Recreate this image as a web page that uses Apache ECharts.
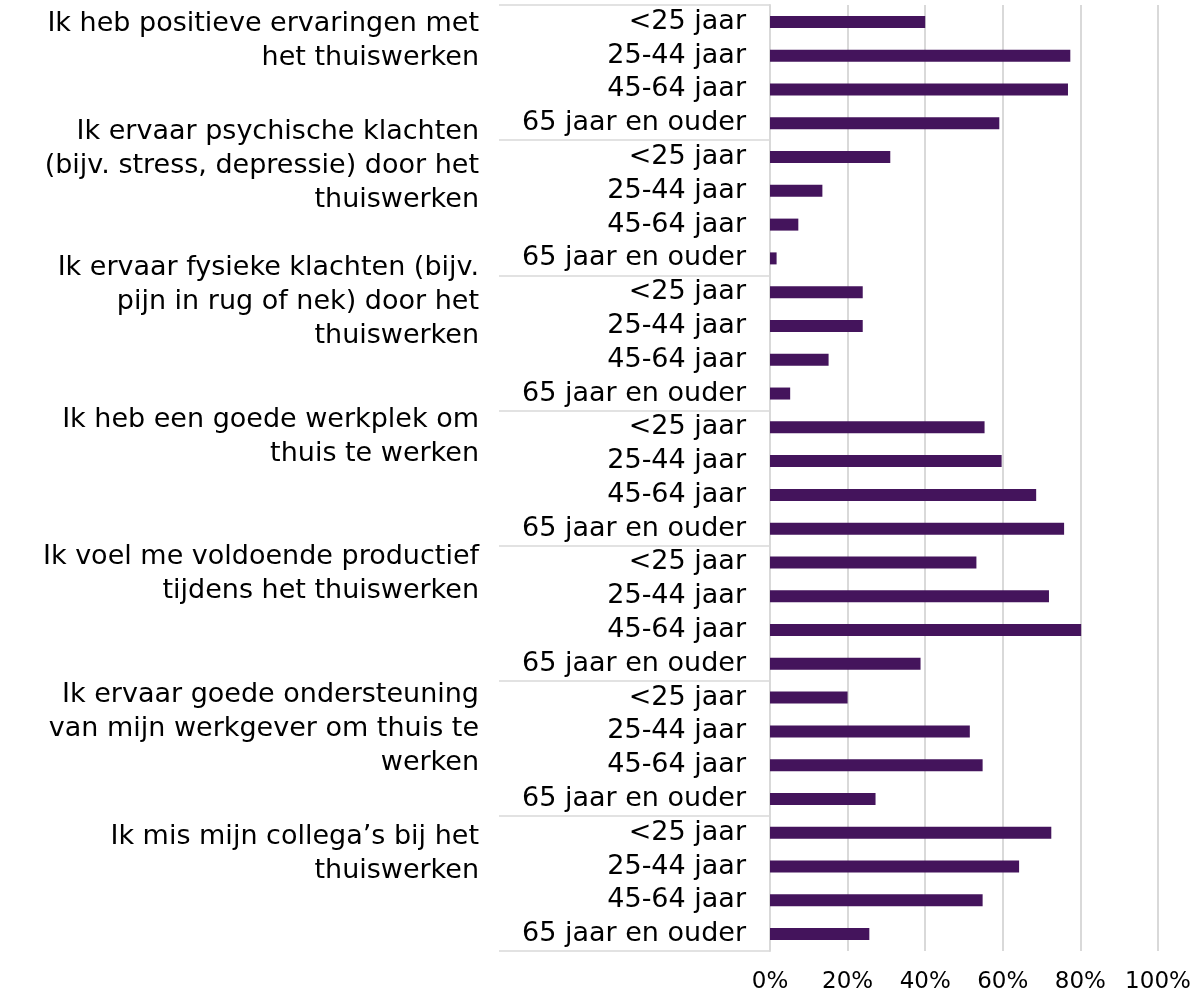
<!DOCTYPE html>
<html lang="nl">
<head>
<meta charset="UTF-8">
<title>Thuiswerken naar leeftijd</title>
<script src="https://cdn.jsdelivr.net/npm/echarts@6/dist/echarts.min.js"></script>
<style>
    html, body { margin: 0; padding: 0; width: 100%; height: 100%; background: #fff; }
    #main { width: 1196px; height: 994px; }
</style>
</head>
<body>
<div id="main"></div>
<script>
// stellingen (groepen) en leeftijdsklassen
var stellingen = [
    'Ik heb positieve ervaringen met\nhet thuiswerken',
    'Ik ervaar psychische klachten\n(bijv. stress, depressie) door het\nthuiswerken',
    'Ik ervaar fysieke klachten (bijv.\npijn in rug of nek) door het\nthuiswerken',
    'Ik heb een goede werkplek om\nthuis te werken',
    'Ik voel me voldoende productief\ntijdens het thuiswerken',
    'Ik ervaar goede ondersteuning\nvan mijn werkgever om thuis te\nwerken',
    'Ik mis mijn collega\u2019s bij het\nthuiswerken'
];
var leeftijden = ['<25 jaar', '25-44 jaar', '45-64 jaar', '65 jaar en ouder'];

// percentage eens, per stelling per leeftijdsklasse
var positief      = [40.0, 77.4, 76.8, 59.1];
var psychisch     = [31.0, 13.5, 7.3, 1.7];
var fysiek        = [23.9, 23.9, 15.1, 5.2];
var werkplek      = [55.3, 59.7, 68.6, 75.8];
var productief    = [53.2, 71.9, 80.2, 38.8];
var ondersteuning = [20.0, 51.5, 54.8, 27.2];
var collegas      = [72.5, 64.2, 54.8, 25.6];
var waarden = [positief, psychisch, fysiek, werkplek, productief, ondersteuning, collegas];

var xTicks = [0, 20, 40, 60, 80, 100];

// verschuiving (omhoog, px) van de groepslabels zoals in het origineel
var labelShift = [32, 42, 41, 41, 39, 19, 29];

var cats = [], data = [];
for (var g = 0; g < stellingen.length; g++) {
    for (var a = 0; a < leeftijden.length; a++) {
        cats.push(g + '|' + leeftijden[a]);
        data.push(waarden[g][a]);
    }
}

var font = 'DejaVu Sans, Verdana, sans-serif';
// rich-stijlen: een lege regel onder het label schuift het label omhoog
var rich = { t: { fontSize: 27, lineHeight: 34, color: '#000', fontFamily: font, align: 'right' } };
labelShift.forEach(function (s, i) {
    rich['p' + i] = { fontSize: 2, lineHeight: s * 2, height: s * 2 };
});

var chart = echarts.init(document.getElementById('main'));
chart.setOption({
    animation: false,
    grid: { left: 770, right: 38, top: 5, bottom: 43, outerBoundsMode: 'none' },
    xAxis: {
        type: 'value',
        min: xTicks[0], max: xTicks[xTicks.length - 1], interval: xTicks[1] - xTicks[0],
        axisLine: { show: false },
        axisTick: { show: false },
        axisLabel: { formatter: '{value}%', fontSize: 23, color: '#000', fontFamily: font, margin: 20 },
        splitLine: { lineStyle: { color: '#d9d9d9', width: 2 } }
    },
    yAxis: [{
        type: 'category',
        position: 'left',
        inverse: true,
        data: cats,
        axisLine: { show: true, lineStyle: { color: '#d9d9d9', width: 2 } },
        axisTick: { show: false },
        axisLabel: {
            interval: 0, margin: 24, fontSize: 27, color: '#000', fontFamily: font,
            formatter: function (v) { return v.split('|')[1]; }
        }
    }, {
        type: 'category',
        position: 'left',
        inverse: true,
        data: stellingen,
        axisLine: { show: false },
        axisTick: { show: true, length: 271, lineStyle: { color: '#d9d9d9', width: 1.5 } },
        axisLabel: {
            interval: 0, margin: 291, align: 'right', verticalAlign: 'middle',
            formatter: function (v, i) { return '{t|' + v + '}\n{p' + i + '| }'; },
            rich: rich
        }
    }],
    series: [{
        type: 'bar',
        yAxisIndex: 0,
        data: data,
        barWidth: 12,
        itemStyle: { color: '#44145c' }
    }]
});
</script>
</body>
</html>
